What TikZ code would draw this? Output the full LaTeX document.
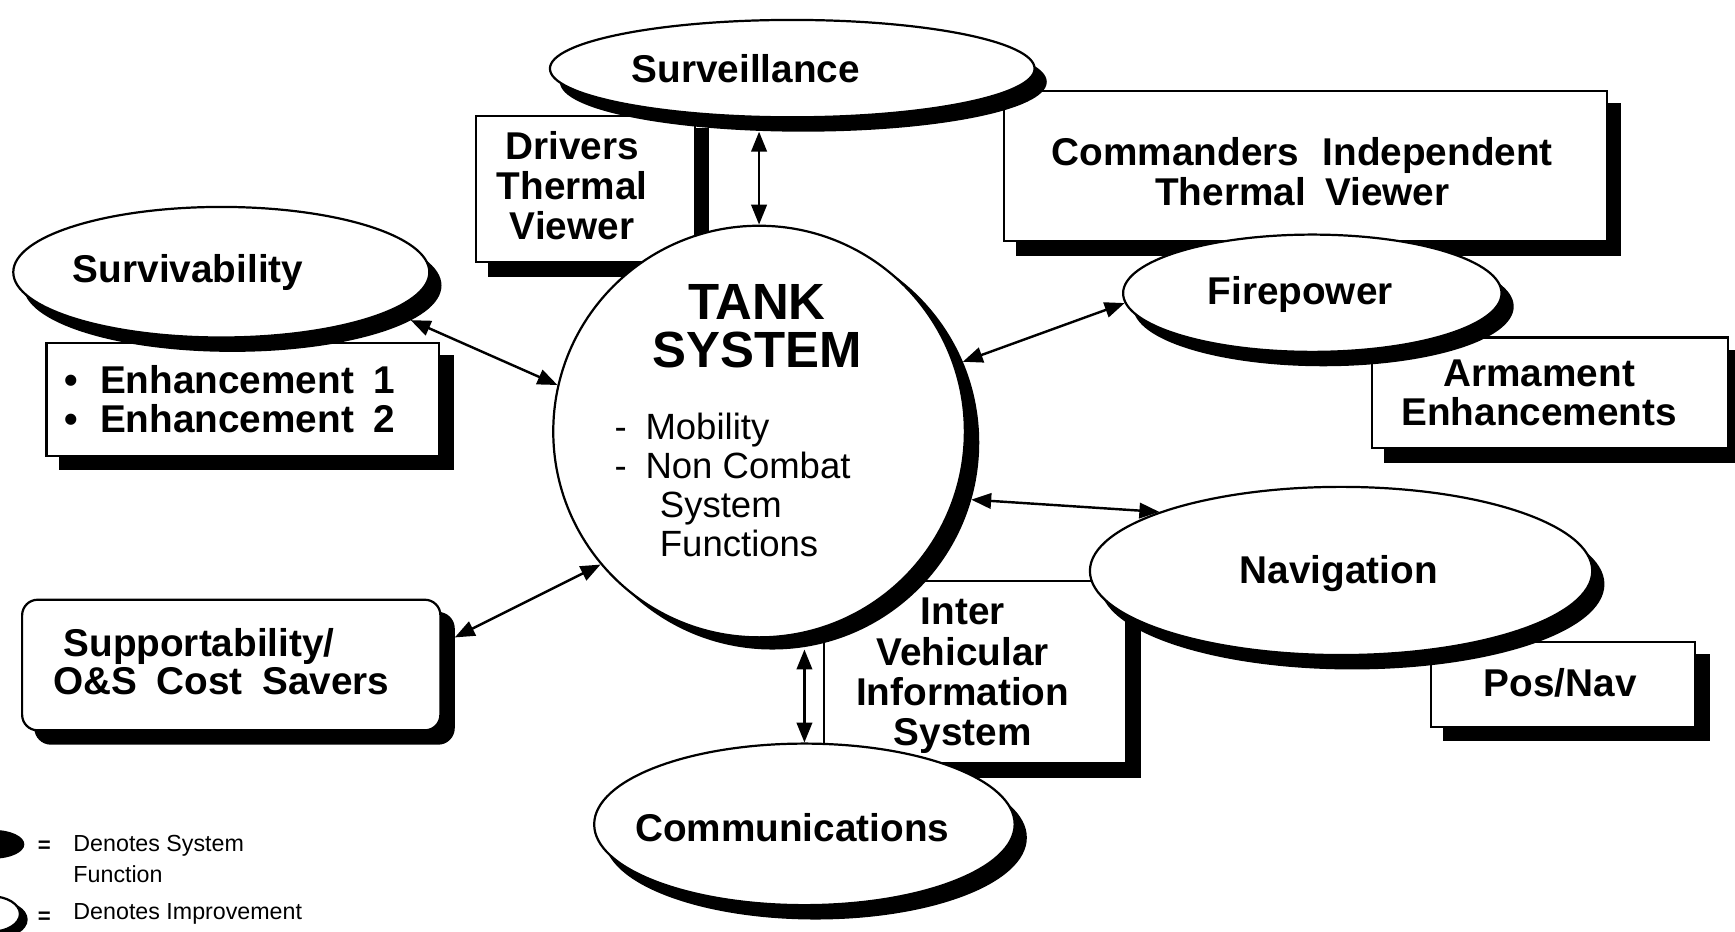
\documentclass[tikz,border=0pt]{standalone}
\usepackage{fontspec}
\setmainfont{Liberation Sans}
\usetikzlibrary{arrows.meta,shapes.geometric}

\begin{document}
\begin{tikzpicture}[x=0.5pt, y=-0.5pt,
  outl/.style={draw=black, line width=1pt, fill=white, inner sep=0pt},
  shd/.style={draw=black, line width=1pt, fill=black, inner sep=0pt},
  ell/.style={ellipse, outl},
  ells/.style={ellipse, shd},
  boxn/.style={rectangle, outl},
  boxs/.style={rectangle, shd},
  big/.style={font=\fontsize{17.5}{18}\selectfont\bfseries, align=center, inner sep=0pt},
  body/.style={font=\fontsize{16.5}{17.6}\selectfont, align=left, inner sep=0pt},
  small/.style={font=\fontsize{10.5}{14}\selectfont, align=left, inner sep=0pt},
  tip/.tip={Triangle[length=9pt,width=7pt]},
  arr/.style={line width=1.1pt, tip-tip},
]
\useasboundingbox (0,0) rectangle (1568,842);
\clip (0,0) rectangle (1568,842);
\fill[white] (0,0) rectangle (1568,842);

% ---- improvement boxes (shadow first, then the box) ----
\node[boxs, minimum width=99pt,    minimum height=66pt]   (drvs) at (541,183) {};
\node[boxn, minimum width=99pt,    minimum height=66pt]   (drv)  at (529,171) {};
\node[boxs, minimum width=272.5pt, minimum height=68pt]   (cmds) at (1191.5,162) {};
\node[boxn, minimum width=272.5pt, minimum height=68pt]   (cmd)  at (1179.5,150) {};
\node[boxs, minimum width=177.5pt, minimum height=51pt]   (enhs) at (231.5,373) {};
\node[boxn, minimum width=177.5pt, minimum height=51pt]   (enh)  at (219.5,361) {};
\node[boxs, rounded corners=7pt, minimum width=189pt, minimum height=59pt] (sups) at (221,613) {};
\node[boxn, rounded corners=7pt, minimum width=189pt, minimum height=59pt] (sup)  at (209,601) {};
\node[boxs, minimum width=161pt,   minimum height=50pt]   (arms) at (1413,367) {};
\node[boxn, minimum width=161pt,   minimum height=50pt]   (arm)  at (1401,355) {};
\node[boxs, minimum width=119.5pt, minimum height=38.5pt] (poss) at (1424.5,630.5) {};
\node[boxn, minimum width=119.5pt, minimum height=38.5pt] (pos)  at (1412.5,618.5) {};
\node[boxs, minimum width=136.5pt, minimum height=82.5pt] (iviss) at (893.5,619.5) {};
\node[boxn, minimum width=136.5pt, minimum height=82.5pt] (ivis)  at (881.5,607.5) {};

% ---- system functions (ellipses with shadows) ----
\node[ells, minimum width=219pt, minimum height=44pt] (survs) at (726,74) {};
\node[ell,  minimum width=219pt, minimum height=44pt] (surv)  at (716,62) {};
\node[ells, minimum width=188pt, minimum height=59pt] (svvs)  at (210,258) {};
\node[ell,  minimum width=188pt, minimum height=59pt] (svv)   at (200,246) {};
\node[ells, minimum width=171pt, minimum height=53pt] (fires) at (1196,277) {};
\node[ell,  minimum width=171pt, minimum height=53pt] (fire)  at (1186,265) {};
\node[ells, minimum width=227pt, minimum height=76pt] (navs)  at (1222,528) {};
\node[ell,  minimum width=227pt, minimum height=76pt] (nav)   at (1212,516) {};
\node[ells, minimum width=190pt, minimum height=73pt] (comms) at (737,757) {};
\node[ell,  minimum width=190pt, minimum height=73pt] (comm)  at (727,745) {};

% ---- the tank system ----
\node[circle, shd,  minimum size=186pt] (tanks) at (698,400) {};
\node[circle, outl, minimum size=186pt] (tank)  at (686,390) {};

% ---- interfaces ----
\draw[arr] (tank.north) -- (survs.south -| tank.north);
\draw[arr] (svvs.-11) -- (tank.167);
\draw[arr] (fire.183) -- (tanks.23);
\draw[arr] (nav.162) -- (tanks.-16);
\draw[arr] (sups.11) -- (tank.220);
\draw[arr] (tanks.south -| comm.north) -- (comm.north);

% ---- labels ----
\node[big] (surv-t) at (674,62) {Surveillance};
\node[big] (drv-t) at (517,168) {Drivers\\Thermal\\Viewer};
\node[big] (cmd-t) at (1177,155) {Commanders\hspace{0.6em}Independent\\Thermal\hspace{0.5em}Viewer};
\node[big] (svv-t) at (170,246) {Survivability};
\node[big, anchor=west, align=left, font=\fontsize{17.5}{17.5}\selectfont\bfseries] (enh-t) at (58,361)
  {\makebox[16pt][l]{\textbullet}Enhancement\hspace{9pt}1\\\makebox[16pt][l]{\textbullet}Enhancement\hspace{9pt}2};
\node[big, anchor=west, align=left, font=\fontsize{17.5}{15}\selectfont\bfseries] (sup-t) at (48,598)
  {\hspace*{4.5pt}Supportability/\\O\&S\hspace{0.5em}Cost\hspace{0.5em}Savers};
\node[inner sep=0pt, align=center, font=\fontsize{23}{21.5}\selectfont\bfseries] (tank-t) at (684,295) {TANK\\SYSTEM};
\node[body, anchor=west] (tank-f) at (555,438)
  {\makebox[14pt][l]{-}Mobility\\\makebox[14pt][l]{-}Non Combat\\\hspace*{20.5pt}System\\\hspace*{20.5pt}Functions};
\node[big] (fire-t) at (1175,266) {Firepower};
\node[big, font=\fontsize{17.5}{17.5}\selectfont\bfseries] (arm-t) at (1391,355) {Armament\\Enhancements};
\node[big] (nav-t) at (1210,518) {Navigation};
\node[big] (pos-t) at (1410,617) {Pos/Nav};
\node[big, font=\fontsize{17.5}{18.2}\selectfont\bfseries] (ivis-t) at (870,611) {Inter\\Vehicular\\Information\\System};
\node[big] (comm-t) at (716,748) {Communications};

% ---- legend ----
\node[ellipse, fill=black, inner sep=0pt, minimum width=28pt, minimum height=13pt] (leg1) at (-6,763) {};
\node[font=\fontsize{10}{10}\selectfont\bfseries, inner sep=0pt] (eq1) at (40,765) {=};
\node[small, anchor=west] (leg1-t) at (66,776) {Denotes System\\Function};
\node[ells, minimum width=26pt, minimum height=16pt] (leg2s) at (-2,831) {};
\node[ell,  minimum width=26pt, minimum height=16pt] (leg2)  at (-8,826) {};
\node[font=\fontsize{10}{10}\selectfont\bfseries, inner sep=0pt] (eq2) at (40,829) {=};
\node[small, anchor=west] (leg2-t) at (66,826) {Denotes Improvement};
\end{tikzpicture}
\end{document}
